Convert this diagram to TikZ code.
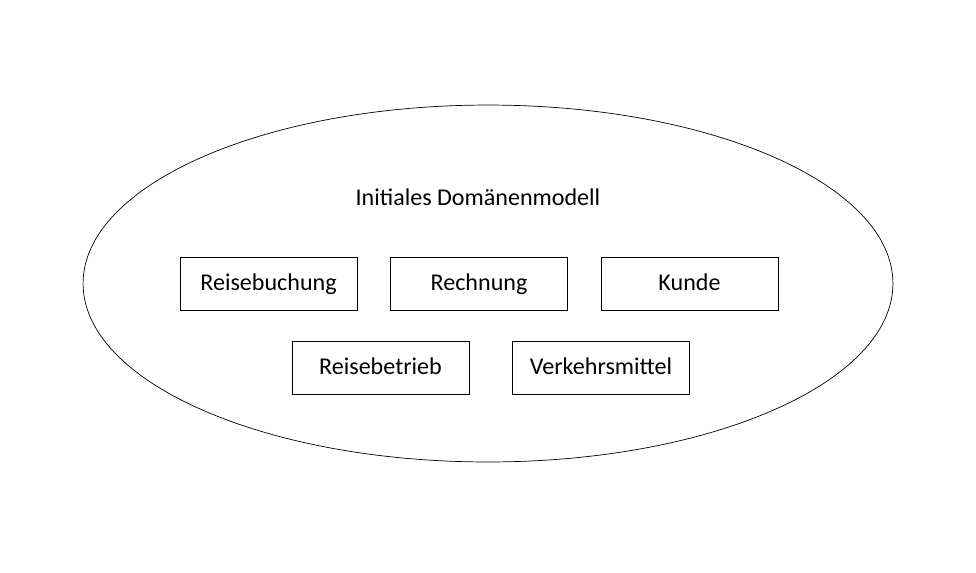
\documentclass[tikz,border=0pt]{standalone}
\usepackage{fontspec}
\setmainfont{Carlito}
\usetikzlibrary{shapes.geometric}

\begin{document}
\begin{tikzpicture}[x=0.02cm, y=-0.02cm,
		entity/.style={draw, rectangle, minimum width=3.54cm, minimum height=1.06cm, inner sep=0pt, text height=0.97em, text depth=0.2em, font=\fontsize{13.7}{16}\selectfont}]
				\useasboundingbox (0,0) rectangle (976,572);
				\node[draw, ellipse, minimum width=16.2cm, minimum height=7.14cm, inner sep=0pt] (modell) at (488,283.5) {};
				\node[font=\fontsize{13.7}{16}\selectfont] (titel) at (478,197) {Initiales Domänenmodell};
				\node[entity] (buchung) at (268.5,283.5) {Reisebuchung};
				\node[entity] (rechnung) at (479,283.5) {Rechnung};
				\node[entity] (kunde) at (689.5,283.5) {Kunde};
				\node[entity] (betrieb) at (380.5,368) {Reisebetrieb};
				\node[entity] (verkehr) at (601,368) {Verkehrsmittel};
			\end{tikzpicture}
\end{document}
